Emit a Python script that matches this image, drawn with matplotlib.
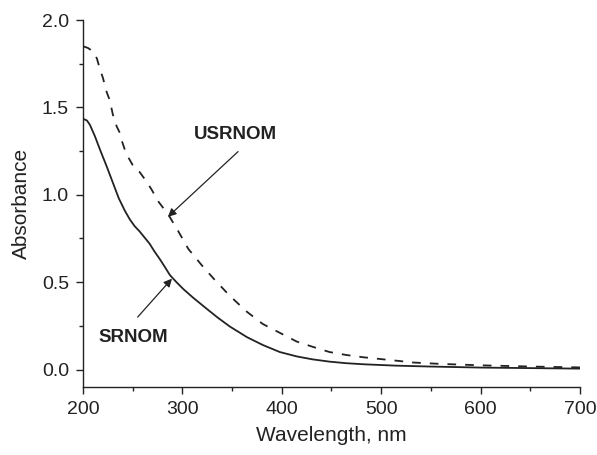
import numpy as np
import matplotlib.pyplot as plt
from matplotlib.ticker import MultipleLocator

# spectra (wavelength nm, absorbance)
wl_sr = [200, 204, 207, 212, 217, 224, 230, 236, 242, 247, 252, 257, 262, 267, 272, 277.5,
         282, 287.5, 294, 301, 311, 325, 336, 348, 365, 381, 398, 415, 431, 448, 465, 482,
         515, 549, 600, 650, 700]
abs_sr = [1.435, 1.425, 1.40, 1.335, 1.26, 1.16, 1.07, 0.98, 0.91, 0.86, 0.82, 0.79, 0.755,
          0.72, 0.675, 0.63, 0.59, 0.54, 0.50, 0.46, 0.41, 0.345, 0.295, 0.245, 0.185, 0.14,
          0.10, 0.075, 0.058, 0.045, 0.036, 0.03, 0.022, 0.017, 0.011, 0.008, 0.005]

wl_us = [200, 205, 210, 214, 217, 220, 224, 227, 230, 234, 237, 239, 242, 246, 252, 257,
         264, 269, 276, 286, 296, 306, 319, 333, 348, 365, 381, 398, 415, 431, 448, 465,
         482, 516, 532, 560, 600, 650, 700]
abs_us = [1.85, 1.84, 1.82, 1.78, 1.72, 1.67, 1.585, 1.54, 1.46, 1.39, 1.355, 1.31, 1.26,
          1.21, 1.15, 1.13, 1.075, 1.03, 0.96, 0.885, 0.79, 0.69, 0.60, 0.51, 0.42, 0.33,
          0.26, 0.21, 0.16, 0.13, 0.10, 0.083, 0.07, 0.05, 0.04, 0.032, 0.024, 0.017, 0.012]

plt.rcParams['font.family'] = ['Liberation Sans', 'DejaVu Sans']
ink = '#222222'

fig = plt.figure(figsize=(5.97, 4.55), dpi=100)
ax = fig.add_axes([0.139, 0.1495, 0.8325, 0.8065])

ax.plot(wl_sr, abs_sr, color=ink, lw=1.3)
ax.plot(wl_us, abs_us, color=ink, lw=1.3, ls=(0, (4.8, 5)))

ax.set_xlim(200, 700)
ax.set_ylim(-0.1, 2.0)
ax.xaxis.set_major_locator(MultipleLocator(100))
ax.xaxis.set_minor_locator(MultipleLocator(50))
ax.yaxis.set_minor_locator(MultipleLocator(0.25))
ax.set_yticks([0.0, 0.5, 1.0, 1.5, 2.0])
ax.set_yticklabels(['0.0', '0.5', '1.0', '1.5', '2.0'])

for s in ['top', 'right']:
    ax.spines[s].set_visible(False)
for s in ['left', 'bottom']:
    ax.spines[s].set_color(ink)
    ax.spines[s].set_linewidth(1.0)

ax.tick_params(which='major', direction='out', length=5, width=1.0, colors=ink,
               labelsize=14, pad=5)
ax.tick_params(which='minor', direction='out', length=3, width=1.0, colors=ink)

ax.set_xlabel('Wavelength, nm', fontsize=15, color=ink, labelpad=6)
ax.set_ylabel('Absorbance', fontsize=15, color=ink, labelpad=8)

# labels with arrows
arrow = dict(arrowstyle='-|>', color=ink, lw=0.9, mutation_scale=12, shrinkA=0, shrinkB=0)
ax.annotate('', xy=(285.5, 0.874), xytext=(356, 1.247), arrowprops=arrow)
ax.text(353, 1.345, 'USRNOM', fontsize=13.5, fontweight='bold', color=ink,
        ha='center', va='center')
ax.annotate('', xy=(289.5, 0.52), xytext=(255, 0.30), arrowprops=arrow)
ax.text(251, 0.184, 'SRNOM', fontsize=13.5, fontweight='bold', color=ink,
        ha='center', va='center')

fig.savefig('out.png', dpi=100)
